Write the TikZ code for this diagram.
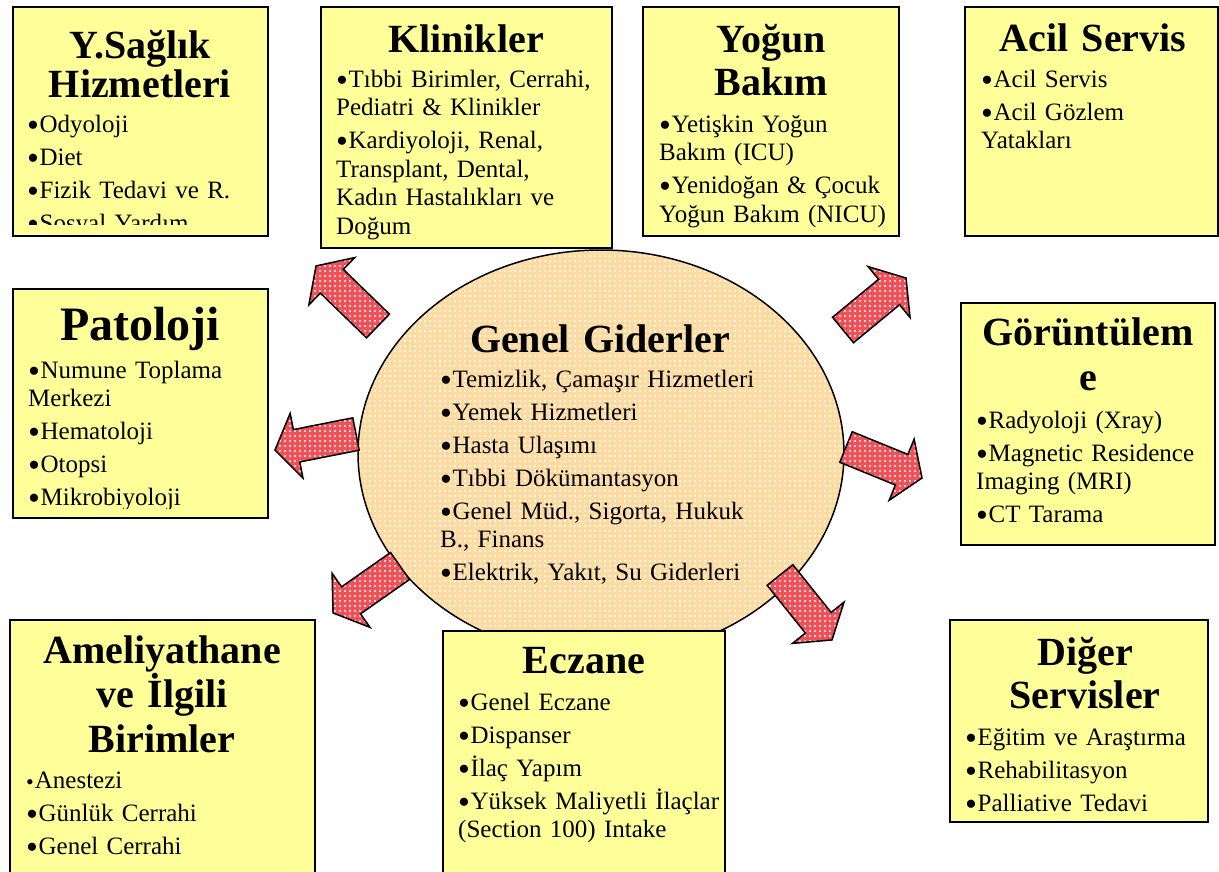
\documentclass[tikz,border=0pt]{standalone}
\usepackage{fontspec}
\setmainfont{Liberation Serif}
\usetikzlibrary{shapes.geometric,patterns.meta}
\definecolor{boxyellow}{RGB}{255,255,153}
\definecolor{peach}{RGB}{252,218,160}
\definecolor{arrowred}{RGB}{240,80,88}
\newcommand\itgap{\\[4.5pt]}
\newcommand\bul{\raisebox{-4pt}{\fontsize{34}{28}\selectfont •}\kern0.5pt}
\newcommand\sbul{\raisebox{-1pt}{\fontsize{22}{28}\selectfont •}\kern1pt}
\tikzset{
  box/.style={draw=black, line width=1.6pt, fill=boxyellow, rectangle, inner sep=0pt, outer sep=0pt, anchor=north west},
  ttl/.style={font=\fontsize{40}{44}\selectfont\bfseries, align=center, text width=#1, inner sep=0pt, anchor=base},
  bodytext/.style={font=\fontsize{25}{28.5}\selectfont, align=left, text width=#1, inner sep=0pt, anchor=base west},
  ellstyle/.style={ellipse, draw=black, line width=1.5pt, preaction={fill=peach}, pattern={Dots[distance=5pt,radius=1.1pt]}, pattern color=white, inner sep=0pt},
  arrowbody/.style={draw=black, line width=1.5pt, line join=miter, preaction={fill=arrowred}, pattern={Dots[distance=5pt,radius=1.1pt]}, pattern color=white},
  pics/barrow/.style={code={\path[arrowbody] (0,-16.5) -- ({#1-22},-16.5) -- ({#1-22},-33) -- (#1,0) -- ({#1-22},33) -- ({#1-22},16.5) -- (0,16.5) -- cycle;}},
}
\begin{document}
\begin{tikzpicture}[x=1pt,y=-1pt]
\useasboundingbox (0,0) rectangle (1219,871);
\clip (0,0) rectangle (1219,871);
\fill[white] (0,0) rectangle (1219,871);

% central ellipse
\node[ellstyle, minimum width=486, minimum height=407] (gg) at (601,453.5) {};
\node[ttl=400] (ggt) at (600,352) {Genel Giderler};
\node[bodytext=380] (ggb) at (440,387) {\bul Temizlik, Çamaşır Hizmetleri\itgap \bul Yemek Hizmetleri\itgap \bul Hasta Ulaşımı\itgap \bul Tıbbi Dökümantasyon\itgap \bul Genel Müd., Sigorta, Hukuk\\ B., Finans\itgap \bul Elektrik, Yakıt, Su Giderleri};

% block arrows (tail at ellipse side, rotated towards the boxes)
\pic[rotate=135.9] at (378,326) {barrow=86.3};
\pic[rotate=191.2] at (356,434) {barrow=82.6};
\pic[rotate=215.05] at (400,566) {barrow=81.8};
\pic[rotate=-51.3] at (780,575) {barrow=83.2};
\pic[rotate=-22.2] at (846,447) {barrow=82.1};
\pic[rotate=39.5] at (843,330) {barrow=81.7};

% Box 1: Y.Saglik Hizmetleri
\node[box, minimum width=255, minimum height=229] (ysag) at (13,7) {};
\begin{scope}
\clip (14,8) rectangle (267,224);
\node[ttl=250, font=\fontsize{40}{39}\selectfont\bfseries] (ysagt) at (140,58) {Y.Sağlık\\Hizmetleri};
\node[bodytext=240] (ysagb) at (27,132) {\bul Odyoloji\itgap \bul Diet\itgap \bul Fizik Tedavi ve R.\itgap \bul Sosyal Yardım};
\end{scope}

% Box 2: Klinikler
\node[box, minimum width=291, minimum height=241] (klin) at (321,7) {};
\node[ttl=280] (klint) at (466,52) {Klinikler};
\node[bodytext=280] (klinb) at (336,87) {\bul Tıbbi Birimler, Cerrahi,\\ Pediatri \& Klinikler\itgap \bul Kardiyoloji, Renal,\\ Transplant, Dental,\\ Kadın Hastalıkları ve\\ Doğum};

% Box 3: Yogun Bakim
\node[box, minimum width=256, minimum height=229] (yog) at (643,7) {};
\node[ttl=250, font=\fontsize{40}{43}\selectfont\bfseries] (yogt) at (771,52) {Yoğun\\Bakım};
\node[bodytext=250] (yogb) at (659,132) {\bul Yetişkin Yoğun\\ Bakım (ICU)\itgap \bul Yenidoğan \& Çocuk\\ Yoğun Bakım (NICU)};

% Box 4: Acil Servis
\node[box, minimum width=253, minimum height=229] (acil) at (965,7) {};
\node[ttl=250] (acilt) at (1093,51) {Acil Servis};
\node[bodytext=230] (acilb) at (981,87) {\bul Acil Servis\itgap \bul Acil Gözlem\\ Yatakları};

% Box 5: Patoloji
\node[box, minimum width=255, minimum height=229] (pato) at (13,289) {};
\begin{scope}
\clip (14,290) rectangle (267,508);
\node[ttl=250, font=\fontsize{48}{50}\selectfont\bfseries] (patot) at (140,340) {Patoloji};
\node[bodytext=240] (patob) at (28,378) {\bul Numune Toplama\\ Merkezi\itgap \bul Hematoloji\itgap \bul Otopsi\itgap \bul Mikrobiyoloji};
\end{scope}

% Box 6: Goruntuleme
\node[box, minimum width=254, minimum height=242] (gor) at (961,303) {};
\node[ttl=250, font=\fontsize{40}{45}\selectfont\bfseries] (gort) at (1088,345) {Görüntülem\\e};
\node[bodytext=240] (gorb) at (976,428) {\bul Radyoloji (Xray)\itgap \bul Magnetic Residence\\ Imaging (MRI)\itgap \bul CT Tarama};

% Box 7: Ameliyathane
\node[box, minimum width=305, minimum height=270] (amel) at (10,620) {};
\node[ttl=300, font=\fontsize{40}{44.5}\selectfont\bfseries] (amelt) at (162,663) {Ameliyathane\\ve İlgili\\Birimler};
\node[bodytext=280] (amelb) at (26,788) {\sbul Anestezi\itgap \bul Günlük Cerrahi\itgap \bul Genel Cerrahi};

% Box 8: Eczane
\node[box, minimum width=282, minimum height=260] (ecz) at (443,631) {};
\node[ttl=280] (eczt) at (584,673) {Eczane};
\node[bodytext=270] (eczb) at (458,710) {\bul Genel Eczane\itgap \bul Dispanser\itgap \bul İlaç Yapım\itgap \bul Yüksek Maliyetli İlaçlar\\ (Section 100) Intake};

% Box 9: Diger Servisler
\node[box, minimum width=258, minimum height=202] (dig) at (950,620) {};
\node[ttl=250, font=\fontsize{40}{43}\selectfont\bfseries] (digt) at (1085,665) {Diğer\\Servisler};
\node[bodytext=240] (digb) at (965,745) {\bul Eğitim ve Araştırma\itgap \bul Rehabilitasyon\itgap \bul Palliative Tedavi};
\end{tikzpicture}
\end{document}
